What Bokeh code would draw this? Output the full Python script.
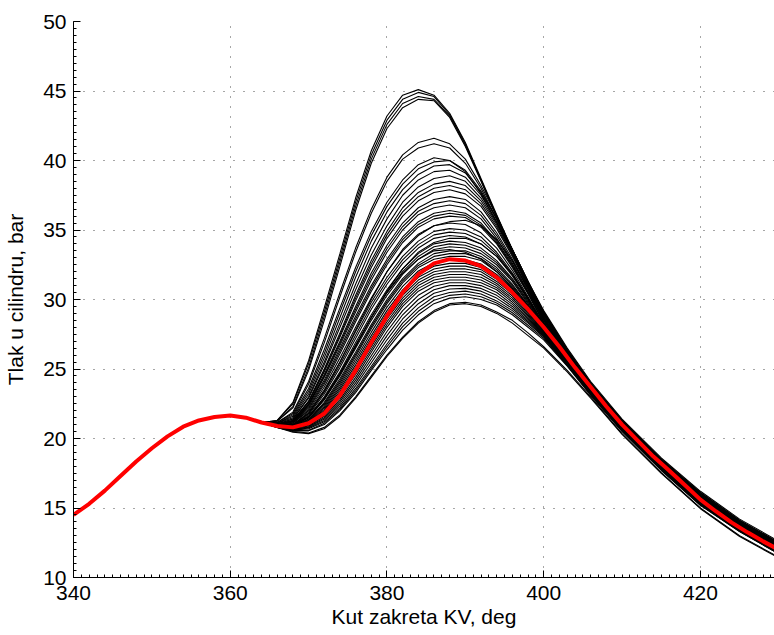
from bokeh.plotting import figure
from bokeh.models import Range1d, FixedTicker, ColumnDataSource
from bokeh.embed import file_html
from bokeh.resources import INLINE

# ---------------- data ----------------
X_TICKS = [340, 360, 380, 400, 420]
Y_TICKS = [10, 15, 20, 25, 30, 35, 40, 45, 50]
X_LABEL = "Kut zakreta KV, deg"
Y_LABEL = "Tlak u cilindru, bar"

# mean cycle (red)
red_x = [340, 342, 344, 346, 348, 350, 352, 354, 356, 358, 360, 362, 364, 366, 368,
         370, 372, 374, 376, 378, 380, 382, 384, 386, 388, 390, 392, 394, 396, 398,
         400, 402, 404, 406, 408, 410, 412, 414, 416, 418, 420, 422, 424, 426, 428, 430]
red_y = [14.5, 15.3, 16.25, 17.3, 18.35, 19.3, 20.15, 20.85, 21.3, 21.55, 21.65, 21.5, 21.15, 20.9, 20.8,
         21.1, 21.8, 23.1, 24.9, 26.9, 28.8, 30.5, 31.8, 32.6, 32.9, 32.8, 32.4, 31.6, 30.5, 29.3,
         28.0, 26.6, 25.1, 23.7, 22.3, 21.0, 19.85, 18.7, 17.7, 16.65, 15.6, 14.75, 13.95, 13.25, 12.6, 12.0]

# individual cycles (black), sampled at cyc_x
cyc_x = [364, 366, 368, 370, 372, 374, 376, 378, 380, 382, 384, 386, 388, 390, 392, 394, 396, 398,
         400, 403, 406, 410, 415, 420, 425, 430]
cyc_h1 = [21.15, 21.3, 22.6, 25.6, 29.4, 33.3, 37.3, 40.7, 43.2, 44.7, 45.1, 44.7, 43.4, 41.3, 38.7, 36.1, 33.6, 31.3, 29.2, 26.5, 24.1, 21.4, 18.6, 16.2, 14.2, 12.6]
cyc_h2 = [21.15, 21.3, 22.5, 25.4, 29.1, 33.0, 37.0, 40.4, 42.9, 44.4, 44.9, 44.6, 43.3, 41.2, 38.6, 36.0, 33.5, 31.2, 29.1, 26.4, 24.0, 21.3, 18.5, 16.1, 14.1, 12.5]
cyc_h3 = [21.15, 21.25, 22.3, 25.1, 28.8, 32.7, 36.7, 40.1, 42.6, 44.1, 44.6, 44.4, 43.2, 41.1, 38.6, 36.0, 33.5, 31.2, 29.1, 26.4, 24.0, 21.3, 18.5, 16.1, 14.1, 12.5]
cyc_h4 = [21.15, 21.25, 22.2, 24.9, 28.5, 32.4, 36.4, 39.8, 42.3, 43.8, 44.4, 44.3, 43.1, 41.0, 38.5, 35.9, 33.4, 31.1, 29.0, 26.3, 23.9, 21.2, 18.4, 16.0, 14.0, 12.4]
cyc_b1 = [21.15, 21.15, 21.9, 24.1, 27.2, 30.5, 33.7, 36.5, 38.8, 40.4, 41.3, 41.6, 41.2, 40.1, 38.2, 36.0, 33.6, 31.3, 29.1, 26.3, 23.9, 21.3, 18.5, 16.1, 14.1, 12.5]
cyc_b2 = [21.15, 21.15, 21.8, 23.9, 26.9, 30.2, 33.4, 36.2, 38.5, 40.1, 40.9, 41.2, 40.9, 39.8, 38.0, 35.8, 33.5, 31.2, 29.0, 26.3, 23.9, 21.2, 18.5, 16.0, 14.0, 12.4]
cyc_c1 = [21.15, 21.1, 21.7, 23.6, 26.4, 29.4, 32.3, 34.9, 37.0, 38.6, 39.7, 40.2, 40.0, 39.2, 37.6, 35.6, 33.4, 31.1, 28.9, 26.2, 23.9, 21.3, 18.5, 16.0, 14.0, 12.45]
cyc_c2 = [21.15, 21.1, 21.6, 23.4, 26.1, 29.1, 32.0, 34.6, 36.7, 38.3, 39.4, 39.9, 40.0, 39.3, 37.8, 35.8, 33.6, 31.3, 29.0, 26.2, 23.8, 21.2, 18.4, 15.9, 14.0, 12.4]
cyc_c3 = [21.15, 21.1, 21.5, 23.2, 25.8, 28.7, 31.6, 34.2, 36.3, 37.9, 39.0, 39.6, 39.7, 39.1, 37.7, 35.8, 33.6, 31.3, 29.0, 26.2, 23.8, 21.2, 18.4, 15.9, 13.95, 12.35]
cyc_d1 = [21.15, 21.05, 21.4, 23.0, 25.5, 28.3, 31.1, 33.7, 35.8, 37.5, 38.6, 39.2, 39.3, 38.8, 37.5, 35.6, 33.4, 31.1, 28.9, 26.1, 23.8, 21.2, 18.4, 15.9, 13.9, 12.3]
cyc_d2 = [21.15, 21.05, 21.4, 22.9, 25.3, 28.0, 30.7, 33.2, 35.3, 37.0, 38.1, 38.7, 38.9, 38.5, 37.3, 35.5, 33.4, 31.1, 28.8, 26.1, 23.8, 21.1, 18.4, 15.8, 13.9, 12.3]
cyc_d3 = [21.15, 21.0, 21.3, 22.7, 25.0, 27.6, 30.3, 32.8, 34.9, 36.6, 37.7, 38.3, 38.5, 38.2, 37.1, 35.4, 33.3, 31.0, 28.7, 26.0, 23.7, 21.1, 18.3, 15.8, 13.9, 12.3]
cyc_k1 = [21.15, 21.0, 21.3, 22.65, 24.9, 27.45, 30.1, 32.55, 34.65, 36.3, 37.4, 38.0, 38.2, 37.9, 36.9, 35.25, 33.2, 30.95, 28.7, 26.0, 23.7, 21.1, 18.3, 15.8, 13.9, 12.3]
cyc_e1 = [21.15, 21.0, 21.3, 22.6, 24.8, 27.3, 29.9, 32.3, 34.4, 36.0, 37.1, 37.7, 37.9, 37.6, 36.7, 35.1, 33.1, 30.9, 28.7, 26.0, 23.7, 21.1, 18.3, 15.8, 13.85, 12.25]
cyc_e2 = [21.15, 21.0, 21.25, 22.5, 24.6, 27.0, 29.5, 31.9, 33.9, 35.5, 36.6, 37.2, 37.4, 37.2, 36.3, 34.8, 32.9, 30.8, 28.6, 25.9, 23.7, 21.0, 18.3, 15.7, 13.8, 12.2]
cyc_k16 = [21.15, 21.0, 21.2, 22.45, 24.5, 26.85, 29.3, 31.65, 33.65, 35.25, 36.35, 36.9, 37.1, 36.9, 36.05, 34.6, 32.75, 30.7, 28.55, 25.9, 23.65, 21.0, 18.3, 15.7, 13.8, 12.2]
cyc_f1 = [21.15, 21.0, 21.2, 22.4, 24.4, 26.7, 29.1, 31.4, 33.4, 35.0, 36.1, 36.6, 36.8, 36.6, 35.8, 34.4, 32.6, 30.6, 28.5, 25.9, 23.6, 21.0, 18.3, 15.7, 13.8, 12.2]
cyc_f2 = [21.15, 21.0, 21.2, 22.3, 24.2, 26.5, 28.8, 31.0, 32.9, 34.5, 35.6, 36.2, 36.4, 36.2, 35.5, 34.2, 32.5, 30.5, 28.4, 25.8, 23.6, 21.0, 18.2, 15.7, 13.75, 12.15]
cyc_k2 = [21.15, 21.0, 21.15, 22.2, 24.05, 26.3, 28.6, 30.8, 32.7, 34.3, 35.4, 36.0, 36.2, 36.05, 35.35, 34.1, 32.4, 30.45, 28.35, 25.8, 23.55, 20.95, 18.2, 15.65, 13.7, 12.1]
cyc_f3 = [21.15, 20.95, 21.1, 22.1, 23.9, 26.1, 28.4, 30.6, 32.5, 34.1, 35.2, 35.8, 36.0, 35.9, 35.2, 34.0, 32.3, 30.4, 28.3, 25.8, 23.5, 20.9, 18.2, 15.6, 13.7, 12.1]
cyc_k3 = [21.15, 20.95, 21.0, 21.8, 23.4, 25.5, 27.8, 30.0, 32.0, 33.6, 34.7, 35.3, 35.6, 35.7, 35.3, 34.3, 32.8, 30.8, 28.6, 25.9, 23.6, 21.0, 18.2, 15.65, 13.75, 12.15]
cyc_g1 = [21.15, 20.95, 21.1, 22.0, 23.7, 25.8, 28.0, 30.1, 32.0, 33.5, 34.6, 35.3, 35.5, 35.4, 34.8, 33.7, 32.1, 30.2, 28.2, 25.7, 23.5, 20.9, 18.1, 15.6, 13.7, 12.1]
cyc_g2 = [21.15, 20.95, 21.0, 21.9, 23.5, 25.5, 27.7, 29.8, 31.6, 33.1, 34.2, 34.9, 35.1, 35.0, 34.5, 33.4, 31.9, 30.1, 28.1, 25.7, 23.5, 20.9, 18.1, 15.6, 13.7, 12.1]
cyc_k4 = [21.15, 20.95, 21.0, 21.8, 23.35, 25.3, 27.45, 29.55, 31.35, 32.85, 33.95, 34.65, 34.85, 34.75, 34.25, 33.25, 31.8, 30.05, 28.1, 25.7, 23.5, 20.9, 18.1, 15.6, 13.7, 12.1]
cyc_i1 = [21.15, 20.95, 21.0, 21.7, 23.2, 25.1, 27.2, 29.3, 31.1, 32.6, 33.7, 34.4, 34.6, 34.5, 34.0, 33.1, 31.7, 30.0, 28.1, 25.7, 23.5, 20.9, 18.1, 15.55, 13.65, 12.05]
cyc_k5 = [21.15, 20.95, 20.95, 21.5, 22.8, 24.6, 26.6, 28.7, 30.6, 32.2, 33.4, 34.1, 34.4, 34.4, 34.0, 33.1, 31.8, 30.1, 28.2, 25.8, 23.5, 20.9, 18.1, 15.55, 13.65, 12.05]
cyc_i2 = [21.15, 20.95, 20.95, 21.6, 23.0, 24.8, 26.9, 28.9, 30.7, 32.2, 33.3, 34.0, 34.2, 34.1, 33.7, 32.8, 31.5, 29.9, 28.0, 25.7, 23.5, 20.9, 18.1, 15.5, 13.6, 12.0]
cyc_k6 = [21.15, 20.9, 20.95, 21.55, 22.9, 24.65, 26.7, 28.7, 30.5, 32.0, 33.1, 33.8, 34.0, 33.9, 33.5, 32.65, 31.4, 29.8, 27.95, 25.65, 23.45, 20.85, 18.05, 15.5, 13.6, 12.0]
cyc_i3 = [21.15, 20.9, 20.9, 21.5, 22.8, 24.5, 26.5, 28.5, 30.3, 31.8, 32.9, 33.6, 33.8, 33.7, 33.3, 32.5, 31.3, 29.7, 27.9, 25.6, 23.4, 20.8, 18.0, 15.5, 13.6, 12.0]
cyc_k15 = [21.15, 20.95, 21.0, 21.6, 22.9, 24.7, 26.7, 28.7, 30.5, 31.9, 32.9, 33.5, 33.6, 33.4, 32.9, 32.0, 30.8, 29.4, 27.9, 25.6, 23.4, 20.8, 18.0, 15.5, 13.6, 12.0]
cyc_i4 = [21.15, 20.9, 20.9, 21.4, 22.6, 24.3, 26.2, 28.2, 30.0, 31.5, 32.6, 33.3, 33.5, 33.5, 33.1, 32.3, 31.1, 29.6, 27.9, 25.6, 23.4, 20.8, 18.0, 15.5, 13.6, 12.0]
cyc_k7 = [21.15, 20.9, 20.9, 21.35, 22.5, 24.15, 26.05, 28.05, 29.85, 31.35, 32.45, 33.1, 33.3, 33.3, 32.95, 32.15, 31.0, 29.55, 27.9, 25.6, 23.4, 20.8, 18.0, 15.5, 13.6, 12.0]
cyc_j0 = [21.15, 20.9, 20.85, 21.3, 22.4, 24.0, 25.9, 27.9, 29.7, 31.2, 32.3, 32.9, 33.1, 33.1, 32.8, 32.0, 30.9, 29.5, 27.9, 25.6, 23.4, 20.8, 18.0, 15.5, 13.6, 12.0]
cyc_k8 = [21.15, 20.9, 20.85, 21.25, 22.3, 23.85, 25.7, 27.65, 29.45, 30.95, 32.05, 32.65, 32.85, 32.85, 32.55, 31.8, 30.75, 29.4, 27.85, 25.55, 23.4, 20.8, 18.0, 15.5, 13.6, 12.0]
cyc_j1 = [21.15, 20.9, 20.8, 21.2, 22.2, 23.7, 25.5, 27.4, 29.2, 30.7, 31.8, 32.4, 32.6, 32.6, 32.3, 31.6, 30.6, 29.3, 27.8, 25.5, 23.4, 20.8, 18.0, 15.45, 13.55, 11.95]
cyc_k9 = [21.15, 20.9, 20.8, 21.15, 22.1, 23.55, 25.3, 27.2, 29.0, 30.5, 31.6, 32.2, 32.4, 32.4, 32.15, 31.45, 30.5, 29.2, 27.75, 25.5, 23.35, 20.75, 17.95, 15.45, 13.55, 11.95]
cyc_j2 = [21.15, 20.9, 20.8, 21.1, 22.0, 23.4, 25.1, 27.0, 28.8, 30.3, 31.4, 32.0, 32.2, 32.2, 32.0, 31.3, 30.4, 29.1, 27.7, 25.5, 23.3, 20.7, 17.9, 15.4, 13.5, 11.9]
cyc_k10 = [21.15, 20.9, 20.75, 21.05, 21.9, 23.25, 24.95, 26.8, 28.6, 30.1, 31.2, 31.8, 32.0, 32.0, 31.8, 31.15, 30.25, 29.0, 27.65, 25.45, 23.3, 20.7, 17.9, 15.4, 13.5, 11.9]
cyc_j3 = [21.15, 20.9, 20.75, 21.0, 21.8, 23.1, 24.8, 26.6, 28.4, 29.9, 31.0, 31.6, 31.8, 31.8, 31.6, 31.0, 30.1, 28.9, 27.6, 25.4, 23.3, 20.7, 17.9, 15.4, 13.5, 11.9]
cyc_k11 = [21.15, 20.85, 20.7, 20.95, 21.7, 22.95, 24.6, 26.4, 28.2, 29.7, 30.8, 31.4, 31.6, 31.6, 31.4, 30.85, 29.95, 28.8, 27.55, 25.4, 23.3, 20.7, 17.9, 15.4, 13.5, 11.9]
cyc_j4 = [21.15, 20.85, 20.7, 20.9, 21.6, 22.8, 24.4, 26.2, 28.0, 29.5, 30.6, 31.2, 31.4, 31.4, 31.2, 30.7, 29.8, 28.7, 27.5, 25.4, 23.3, 20.7, 17.9, 15.35, 13.45, 11.85]
cyc_k12 = [21.15, 20.85, 20.65, 20.85, 21.5, 22.65, 24.2, 25.95, 27.7, 29.2, 30.3, 30.95, 31.2, 31.2, 31.0, 30.5, 29.65, 28.6, 27.45, 25.35, 23.25, 20.65, 17.85, 15.3, 13.4, 11.8]
cyc_j5 = [21.15, 20.85, 20.65, 20.8, 21.4, 22.5, 24.0, 25.7, 27.4, 28.9, 30.0, 30.7, 31.0, 31.0, 30.8, 30.3, 29.5, 28.5, 27.4, 25.3, 23.2, 20.6, 17.8, 15.3, 13.4, 11.8]
cyc_k13 = [21.15, 20.85, 20.6, 20.75, 21.3, 22.35, 23.8, 25.45, 27.1, 28.6, 29.7, 30.45, 30.75, 30.8, 30.6, 30.1, 29.35, 28.4, 27.35, 25.3, 23.2, 20.6, 17.8, 15.3, 13.4, 11.8]
cyc_j6 = [21.15, 20.85, 20.6, 20.7, 21.2, 22.2, 23.6, 25.2, 26.8, 28.3, 29.4, 30.2, 30.5, 30.6, 30.4, 29.9, 29.2, 28.3, 27.3, 25.3, 23.2, 20.6, 17.8, 15.25, 13.35, 11.75]
cyc_k14 = [21.15, 20.8, 20.55, 20.6, 21.1, 22.1, 23.45, 25.05, 26.6, 28.05, 29.15, 29.95, 30.3, 30.4, 30.2, 29.75, 29.05, 28.15, 27.2, 25.25, 23.15, 20.55, 17.75, 15.2, 13.3, 11.7]
cyc_j7 = [21.15, 20.8, 20.55, 20.55, 21.0, 22.0, 23.3, 24.9, 26.4, 27.8, 28.9, 29.7, 30.1, 30.2, 30.0, 29.6, 28.9, 28.0, 27.1, 25.2, 23.1, 20.5, 17.7, 15.2, 13.3, 11.7]
cyc_l1 = [21.15, 20.8, 20.5, 20.4, 20.8, 21.7, 23.0, 24.5, 26.0, 27.3, 28.4, 29.2, 29.7, 29.8, 29.6, 29.1, 28.5, 27.6, 26.6, 24.9, 23.0, 20.35, 17.55, 15.0, 13.0, 11.45]
cyc_l2 = [21.15, 20.8, 20.45, 20.35, 20.7, 21.6, 22.9, 24.4, 25.9, 27.2, 28.3, 29.1, 29.6, 29.7, 29.5, 29.0, 28.3, 27.4, 26.5, 24.8, 22.9, 20.3, 17.5, 14.95, 12.95, 11.4]

cycles = [cyc_h1, cyc_h2, cyc_h3, cyc_h4, cyc_b1, cyc_b2, cyc_c1, cyc_c2, cyc_c3,
          cyc_d1, cyc_d2, cyc_d3, cyc_k1, cyc_e1, cyc_e2, cyc_k16, cyc_f1, cyc_f2, cyc_k2,
          cyc_f3, cyc_k3, cyc_g1, cyc_g2, cyc_k4, cyc_i1, cyc_k5, cyc_i2, cyc_k6, cyc_i3,
          cyc_k15, cyc_i4, cyc_k7, cyc_j0, cyc_k8, cyc_j1, cyc_k9, cyc_j2, cyc_k10, cyc_j3,
          cyc_k11, cyc_j4, cyc_k12, cyc_j5, cyc_k13, cyc_j6, cyc_k14, cyc_j7, cyc_l1, cyc_l2]

# ---------------- figure ----------------
FONT = "Liberation Sans"

p = figure(width=774, height=635, output_backend="svg", toolbar_location=None,
           x_range=Range1d(340, 429.45), y_range=Range1d(10, 50),
           min_border_left=73, min_border_right=0, min_border_top=21, min_border_bottom=58)
p.outline_line_color = None
p.background_fill_color = "white"
p.border_fill_color = "white"

src = ColumnDataSource(dict(xs=[cyc_x] * len(cycles), ys=cycles))
p.multi_line(xs="xs", ys="ys", source=src, line_color="black", line_width=1.1)
p.line(red_x, red_y, line_color="#ff0000", line_width=4)

p.xaxis.ticker = FixedTicker(ticks=X_TICKS, minor_ticks=list(range(340, 431)))
p.yaxis.ticker = FixedTicker(ticks=Y_TICKS, minor_ticks=[10 + 0.5 * i for i in range(81)])

for ax in (p.xaxis, p.yaxis):
    ax.axis_line_color = "black"
    ax.axis_line_width = 1
    ax.major_tick_in = 7
    ax.major_tick_out = 0
    ax.minor_tick_in = 3
    ax.minor_tick_out = 0
    ax.major_tick_line_color = "black"
    ax.minor_tick_line_color = "black"
    ax.major_label_text_font = FONT
    ax.major_label_text_font_size = "21px"
    ax.major_label_text_color = "black"
    ax.axis_label_text_font = FONT
    ax.axis_label_text_font_size = "21px"
    ax.axis_label_text_font_style = "normal"
    ax.axis_label_text_color = "black"

p.xaxis.axis_label = X_LABEL
p.yaxis.axis_label = Y_LABEL
p.xaxis.major_label_standoff = 8
p.xaxis.axis_label_standoff = 2
p.yaxis.major_label_standoff = 7
p.yaxis.axis_label_standoff = 13

for g in (p.xgrid, p.ygrid):
    g.grid_line_color = "#222222"
    g.grid_line_dash = "1 9"
    g.grid_line_width = 1
    g.grid_line_alpha = 0.8

open("out.html", "w").write(file_html(p, INLINE))
